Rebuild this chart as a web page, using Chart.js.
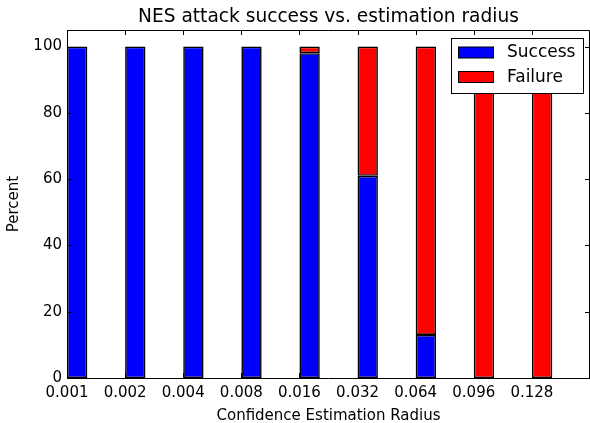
<!DOCTYPE html>
<html>
<head>
<meta charset="utf-8">
<script src="https://cdn.jsdelivr.net/npm/chart.js@4/dist/chart.umd.min.js"></script>
<style>
  html, body { margin: 0; padding: 0; background: #fff; }
  #wrap { width: 590px; height: 423px; }
</style>
</head>
<body>
<div id="wrap"><canvas id="myChart" width="590" height="423"></canvas></div>
<script>
const radii = ['0.001', '0.002', '0.004', '0.008', '0.016', '0.032', '0.064', '0.096', '0.128'];
const success = [100, 100, 100, 100, 98, 61, 13, 0, 0];
const failure = [0, 0, 0, 0, 2, 39, 87, 100, 100];
const yTicks = [0, 20, 40, 60, 80, 100];
const chartTitle = 'NES attack success vs. estimation radius';

// bars are left-aligned on the tick, like old matplotlib bar()
const barWidth = 0.35;
const toPoints = (arr) => arr.map((v, i) => ({ x: i + barWidth / 2, y: v }));

Chart.defaults.font.family = 'DejaVu Sans';
Chart.defaults.color = '#000';

// frame, inward ticks, title over the axes and boxed legend (classic matplotlib look)
const framePlugin = {
  id: 'frame',
  afterDatasetsDraw(chart) {
    const ctx = chart.ctx;
    const a = chart.chartArea;
    const xs = chart.scales.x;
    const ys = chart.scales.y;
    ctx.save();
    ctx.strokeStyle = '#000';
    ctx.lineWidth = 1;
    ctx.beginPath();
    ctx.rect(Math.round(a.left) + 0.5, Math.round(a.top) + 0.5,
      Math.round(a.right - a.left) - 1, Math.round(a.bottom - a.top));
    ctx.stroke();

    const len = 5;
    ctx.beginPath();
    xs.ticks.forEach((t) => {
      const px = Math.round(xs.getPixelForValue(t.value)) + 0.5;
      ctx.moveTo(px, a.bottom);
      ctx.lineTo(px, a.bottom - len);
      ctx.moveTo(px, a.top);
      ctx.lineTo(px, a.top + len);
    });
    ys.ticks.forEach((t) => {
      const py = Math.round(ys.getPixelForValue(t.value)) + 0.5;
      ctx.moveTo(a.left, py);
      ctx.lineTo(a.left + len, py);
      ctx.moveTo(a.right, py);
      ctx.lineTo(a.right - len, py);
    });
    ctx.stroke();

    // title, centred over the axes
    ctx.fillStyle = '#000';
    ctx.font = '18.6px "DejaVu Sans"';
    ctx.textAlign = 'center';
    ctx.textBaseline = 'alphabetic';
    ctx.fillText(chartTitle, (a.left + a.right) / 2, 22);

    // legend
    const lx = 451, ly = 38, lw = 132, lh = 55;
    ctx.fillStyle = '#fff';
    ctx.fillRect(lx, ly, lw, lh);
    ctx.strokeRect(lx + 0.5, ly + 0.5, lw, lh);
    ctx.font = '17px "DejaVu Sans"';
    ctx.textAlign = 'left';
    ctx.textBaseline = 'middle';
    chart.data.datasets.forEach((ds, i) => {
      const cy = 52.5 + i * 24.5;
      ctx.fillStyle = ds.backgroundColor;
      ctx.fillRect(458, cy - 5.5, 35, 11);
      ctx.strokeRect(458.5, cy - 5.5, 35, 11);
      ctx.fillStyle = '#000';
      ctx.fillText(ds.label, 507, cy + 0.5);
    });
    ctx.restore();
  }
};

const context = document.getElementById('myChart').getContext('2d');

const chart = new Chart(context, {
  type: 'bar',
  data: {
    datasets: [
      {
        label: 'Success',
        data: toPoints(success),
        backgroundColor: '#0000ff',
        borderColor: '#000',
        borderWidth: 1.6,
        borderSkipped: false,
        barPercentage: barWidth,
        categoryPercentage: 1,
      },
      {
        label: 'Failure',
        data: toPoints(failure),
        backgroundColor: '#ff0000',
        borderColor: '#000',
        borderWidth: 1.6,
        borderSkipped: false,
        barPercentage: barWidth,
        categoryPercentage: 1,
      },
    ],
  },
  options: {
    responsive: false,
    animation: false,
    layout: { padding: { top: 30, left: 0, right: 0, bottom: 0 } },
    plugins: {
      legend: { display: false },
      tooltip: { enabled: false },
      title: { display: false },
    },
    scales: {
      x: {
        type: 'linear',
        stacked: true,
        offset: false,
        min: 0,
        max: 9,
        grid: { display: false, drawTicks: false, offset: false },
        border: { display: false },
        afterBuildTicks: (s) => { s.ticks = radii.map((_, i) => ({ value: i })); },
        afterFit: (s) => { s.height = 45; },
        ticks: {
          autoSkip: false,
          maxRotation: 0,
          padding: 6,
          font: { size: 15 },
          callback: (v) => radii[v],
        },
        title: {
          display: true,
          text: 'Confidence Estimation Radius',
          font: { size: 15, lineHeight: 0.9 },
          padding: { top: 0, bottom: 0 },
        },
      },
      y: {
        stacked: true,
        min: 0,
        max: 105,
        grid: { display: false, drawTicks: false },
        border: { display: false },
        afterBuildTicks: (s) => { s.ticks = yTicks.map((v) => ({ value: v })); },
        afterFit: (s) => { s.width = 67; },
        ticks: {
          padding: 5,
          font: { size: 15 },
        },
        title: {
          display: true,
          text: 'Percent',
          font: { size: 15 },
          padding: { top: 5, bottom: 0 },
        },
      },
    },
  },
  plugins: [framePlugin],
});
</script>
</body>
</html>
